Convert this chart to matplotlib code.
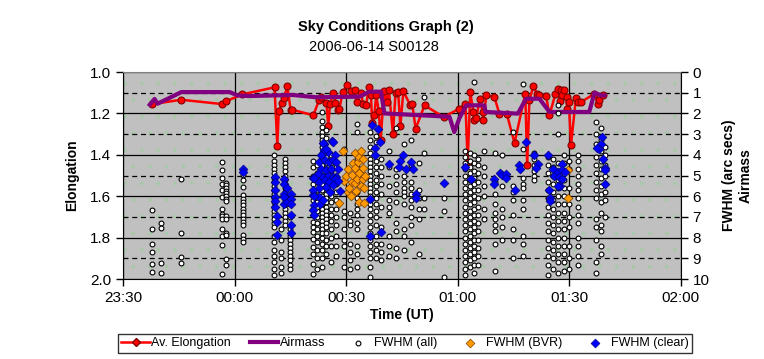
import matplotlib
matplotlib.use("Agg")
import matplotlib.pyplot as plt
from matplotlib.patches import Rectangle
from matplotlib.lines import Line2D

plt.rcParams['font.family'] = ['Liberation Sans', 'DejaVu Sans']
plt.rcParams['hatch.linewidth'] = 0.3

# time axis: minutes after 00:00 UT
time_ticks = [-30, 0, 30, 60, 90, 120]
time_labels = ['23:30', '00:00', '00:30', '01:00', '01:30', '02:00']

# Av. Elongation (left axis)
elong_t = [-22.1, -14.3, -3.3, -2.4, 2.1, 10.75, 11.5, 11.9, 12.8, 13.3, 14.2, 15.1, 15.5,
           21.2, 22.7, 23.3, 24.7, 25.2, 25.7, 26.6, 27.1, 27.9, 28.2, 29.1, 30.2, 31.2,
           32.3, 32.8, 34.1, 34.5, 35.4, 36.1, 36.7, 37.0, 37.6, 38.1, 38.8, 39.3, 40.2,
           40.9, 41.5, 42.6, 43.3, 44.0, 44.6, 45.4, 47.2, 47.8, 48.7, 51.1, 56.2, 60.5,
           62.1, 62.7, 63.4, 64.2, 64.5, 65.0, 66.0, 66.7, 66.9, 67.7, 69.9, 71.2, 73.2,
           75.3, 78.2, 78.7, 79.3, 80.4, 81.3, 82.0, 83.8, 84.7, 86.3, 86.9, 87.5, 87.9,
           88.2, 88.7, 89.3, 89.4, 89.9, 90.5, 91.8, 92.3, 93.2, 96.8, 97.7, 98.1, 99.0]
elong = [1.155, 1.134, 1.155, 1.142, 1.108, 1.074, 1.356, 1.188, 1.150, 1.124, 1.069, 1.185, 1.182,
         1.209, 1.137, 1.121, 1.150, 1.261, 1.153, 1.103, 1.148, 1.184, 1.177, 1.097, 1.064, 1.090,
         1.087, 1.145, 1.100, 1.153, 1.161, 1.074, 1.113, 1.245, 1.209, 1.113, 1.190, 1.329, 1.093,
         1.143, 1.087, 1.298, 1.103, 1.097, 1.262, 1.093, 1.158, 1.155, 1.274, 1.161, 1.217, 1.177,
         1.153, 1.435, 1.097, 1.193, 1.233, 1.222, 1.129, 1.193, 1.233, 1.113, 1.121, 1.201, 1.201,
         1.343, 1.105, 1.448, 1.135, 1.068, 1.105, 1.111, 1.117, 1.209, 1.105, 1.081, 1.142, 1.088,
         1.113, 1.088, 1.121, 1.177, 1.145, 1.351, 1.126, 1.145, 1.145, 1.105, 1.153, 1.137, 1.113]

# Airmass (right axis)
air_t = [-22.8, -21.5, -20.7, -14.3, -1.3, 0.8, 4.0, 15.7, 22.0, 33.6, 36.3, 39.4, 40.3, 57.8,
         59.1, 60.5, 62.3, 67.2, 67.5, 76.2, 78.4, 82.0, 84.7, 95.4, 96.8, 98.6, 99.5]
airmass = [1.58, 1.30, 1.53, 0.97, 0.97, 1.13, 1.16, 1.11, 1.22, 1.19, 0.95, 0.95, 2.00, 2.16,
           2.90, 2.22, 1.61, 1.61, 1.93, 2.01, 1.29, 1.29, 1.93, 1.93, 1.00, 1.13, 1.13]

# FWHM (all): (time, [fwhm values]) per exposure column
fwhm_all_cols = [
    (-22.1, [6.65, 7.57, 8.29, 8.68, 9.29, 9.65]),
    (-19.7, [7.28, 7.52, 9.21, 9.70]),
    (-14.3, [5.15, 7.76, 8.92, 9.21]),
    (-3.3, [4.33, 4.72, 5.12, 5.40, 5.71, 6.02, 6.60, 6.85, 6.96, 7.09, 7.57, 7.92, 8.34, 9.74]),
    (-2.4, [5.35, 5.48, 5.60, 5.73, 5.86, 5.99, 6.12, 6.25, 6.96, 7.12, 7.76, 7.86, 9.05, 9.34]),
    (2.2, [4.99, 5.23, 5.56, 5.96, 6.12, 6.28, 6.44, 6.60, 6.76, 6.92, 7.08, 7.25, 7.41, 7.86, 8.05, 8.21]),
    (10.7, [4.0, 4.3, 4.5, 4.7, 4.9, 5.1, 5.3, 5.5, 5.7, 5.9, 6.1, 6.3, 6.5, 6.7, 6.9, 7.1, 7.3,
            7.5, 7.9, 8.2, 8.6, 8.9, 9.2, 9.5, 9.8]),
    (12.4, [7.6, 8.1, 8.7, 9.0, 9.4, 9.7]),
    (13.6, [4.2, 4.4, 4.6, 4.8, 5.0, 5.2, 5.4, 5.6, 5.8, 6.0, 6.2, 6.4, 6.6, 6.8, 7.0, 7.2, 7.4]),
    (15.0, [6.4, 7.0, 7.6, 7.9, 8.1, 8.3, 8.5, 8.7, 8.9, 9.1, 9.3, 9.5]),
    (21.0, [4.3, 4.6, 5.0, 5.4, 5.8, 6.2, 6.6, 6.9, 7.25, 7.5, 7.73, 8.05, 8.45, 8.78, 9.26, 9.74]),
    (22.3, [4.5, 4.9, 5.3, 5.7, 6.0, 6.3, 6.5, 6.7, 7.0, 7.3, 7.6, 7.9, 8.2, 8.6, 9.0, 9.5]),
    (23.5, [1.95, 2.35, 2.65, 2.9, 3.1, 3.3, 3.6, 3.9, 4.2, 4.5, 4.8, 5.1, 5.4, 5.7, 6.0, 6.2, 6.4,
            6.6, 6.8, 7.0, 7.2, 7.4, 7.6, 7.8, 8.0, 8.3, 8.6, 9.0, 9.4]),
    (24.6, [2.8, 3.2, 3.7, 4.1, 4.4, 4.7, 5.0, 5.3, 5.6, 5.9, 6.1, 6.3, 6.5, 6.7, 6.9, 7.1, 7.3,
            7.5, 7.8, 8.1, 8.4, 8.8]),
    (26.0, [4.0, 4.4, 4.8, 5.2, 5.6, 6.0, 6.3, 6.6, 6.9, 7.2, 7.6, 8.0, 8.4, 9.2]),
    (27.3, [4.6, 5.0, 5.4, 5.8, 6.2, 6.6, 7.0, 7.4, 7.9, 8.4, 8.9]),
    (29.5, [3.7, 6.7, 7.0, 7.6, 8.1, 8.4, 9.4]),
    (31.0, [6.8, 7.2, 7.4, 8.3, 8.7, 9.1, 9.5]),
    (33.0, [2.5, 2.9, 4.2, 4.6, 5.0, 5.4, 5.8, 6.1, 6.4, 6.6, 6.9, 7.3, 7.6, 8.4, 8.8, 9.4]),
    (36.5, [2.9, 3.3, 3.6, 3.9, 4.2, 4.4, 4.6, 4.8, 5.0, 5.2, 5.4, 5.6, 5.8, 6.0, 6.2, 6.4, 6.6,
            6.9, 7.2, 7.5, 7.8, 8.1, 8.4, 8.7, 9.0, 9.4, 9.9]),
    (38.0, [3.1, 3.4, 4.3, 4.6, 4.9, 5.2, 5.5, 5.8, 6.1, 6.4, 6.7, 7.0, 7.4, 7.9, 8.3, 8.6, 9.0]),
    (39.5, [4.2, 4.6, 5.0, 5.4, 5.9, 6.5, 7.5, 8.3, 8.7, 9.1]),
    (41.5, [3.8, 4.6, 5.5, 6.2, 6.5, 6.8, 7.9, 8.4, 8.9]),
    (43.5, [2.7, 4.7, 5.0, 5.4, 5.8, 6.3, 7.3, 7.7, 8.5, 9.0]),
    (45.5, [3.5, 5.0, 5.3, 5.6, 5.8, 6.0, 6.4, 7.6, 7.9, 8.6]),
    (47.5, [3.3, 4.5, 5.3, 5.6, 5.9, 6.2, 6.5, 7.0, 7.4, 8.2]),
    (49.5, [4.4, 5.7, 6.1, 6.6, 7.1, 8.8]),
    (51.0, [1.2, 3.9, 6.1, 6.6]),
    (56.3, [6.1, 6.7, 9.9]),
    (62.0, [3.8, 4.1, 4.4, 4.7, 5.0, 5.3, 5.6, 5.9, 6.2, 6.5, 6.8, 7.1, 7.4, 7.7, 8.0, 8.3, 8.6,
            8.9, 9.2, 9.5, 9.8]),
    (63.2, [3.9, 4.3, 4.6, 4.9, 5.2, 5.5, 5.8, 6.1, 6.4, 6.7, 7.0, 7.3, 7.6, 7.9, 8.2, 8.5, 8.8,
            9.1, 9.4]),
    (64.4, [0.5, 4.0, 4.4, 4.8, 5.1, 5.4, 5.7, 6.0, 6.3, 6.6, 6.9, 7.2, 7.5, 7.8, 8.1, 8.4, 8.7,
            9.0, 9.3, 9.7]),
    (65.6, [4.2, 4.5, 4.9, 5.3, 5.7, 6.1, 6.5, 6.9, 7.3, 7.7, 8.1, 8.5, 8.9, 9.3]),
    (67.0, [3.8, 4.6, 5.0, 5.5, 6.0, 6.6, 7.1]),
    (70.0, [3.9, 5.3, 5.9, 6.4, 6.8, 7.1, 7.4, 7.7, 8.3, 9.6]),
    (72.0, [4.0, 5.5, 6.6, 7.0, 7.5, 8.1]),
    (75.0, [2.9, 5.5, 5.8, 6.2, 6.9, 7.6, 8.1, 9.0]),
    (77.5, [0.6, 3.7, 5.1, 5.4, 5.6, 6.2, 6.6, 7.9, 8.3, 8.9]),
    (80.5, [3.9, 4.2, 4.5, 4.8, 5.0, 5.2]),
    (84.2, [4.1, 4.5, 4.9, 5.3, 5.7, 6.1, 6.5, 6.9, 7.3, 7.7, 8.1, 8.5, 8.9, 9.3, 9.8]),
    (85.6, [4.2, 4.6, 5.0, 5.4, 5.8, 6.2, 6.6, 7.0, 7.4, 7.8, 8.2, 8.6, 9.0, 9.5]),
    (87.0, [1.6, 2.0, 3.0, 4.4, 4.8, 5.2, 5.6, 6.0, 6.4, 6.8, 7.2, 7.6, 8.0, 8.4, 8.8, 9.2, 9.7]),
    (88.6, [4.0, 4.4, 4.8, 5.2, 5.6, 6.0, 6.4, 6.8, 7.2, 7.6, 8.0, 8.4, 8.8, 9.2, 9.6]),
    (90.0, [4.3, 4.7, 5.6, 6.4, 7.0, 7.5, 8.4, 9.0, 9.5]),
    (92.4, [4.0, 4.3, 4.7, 5.0, 5.4, 5.7, 6.1, 6.5, 6.9, 7.3, 8.0, 8.4, 8.9, 9.3]),
    (97.3, [2.4, 3.0, 3.5, 4.1, 4.5, 4.9, 5.3, 5.7, 6.1, 7.1, 7.5, 8.1, 9.2, 9.7]),
    (98.6, [2.7, 3.3, 3.8, 4.3, 4.7, 5.1, 5.5, 5.9, 6.3, 6.8, 7.4, 7.7, 8.4, 8.8]),
    (99.5, [3.6, 4.0, 4.5, 5.0, 5.4, 5.8, 6.2, 7.0]),
]

# FWHM (BVR)
bvr_t = [28.2, 29.3, 29.5, 30.0, 30.5, 30.6, 30.9, 31.2, 31.5, 31.6, 31.8, 32.5, 32.5, 32.5,
         32.7, 32.9, 33.1, 33.4, 33.4, 33.6, 34.1, 34.1, 34.5, 34.5, 34.5, 34.8, 34.8, 35.0,
         89.6, 89.6]
bvr_fwhm = [6.31, 3.80, 5.25, 5.00, 5.78, 4.67, 5.62, 6.00, 5.30, 4.98, 4.41, 3.90, 4.65, 5.38,
            5.75, 5.15, 4.33, 4.09, 6.26, 4.90, 3.80, 5.50, 4.20, 4.65, 5.19, 5.62, 6.34, 5.00,
            4.75, 6.09]

# FWHM (clear)
clear_t = [2.2, 2.2, 10.75, 10.75, 10.75, 10.75, 10.75, 10.75, 11.5, 11.5, 11.5, 13.3, 13.3,
           13.3, 13.3, 13.3, 14.0, 14.0, 15.3, 15.3, 15.3, 15.3, 15.3, 15.3,
           24.0, 26.3, 25.1, 26.9, 22.8, 24.2, 25.5, 26.4, 27.3, 23.3, 24.6, 26.0, 27.8, 22.4,
           23.7, 25.1, 26.4, 27.3, 21.1, 22.8, 24.2, 25.5, 26.9, 27.8, 22.8, 24.6, 26.4, 21.1,
           22.8, 21.5, 21.1, 21.5, 23.0, 28.3, 24.0, 23.3, 25.8, 23.7, 23.9, 26.4, 24.6, 21.5,
           21.1, 21.3,
           36.9, 38.5, 39.0, 37.9, 37.7, 36.3, 36.5, 39.3, 41.5, 45.4, 44.6, 44.1, 46.2, 47.5,
           47.9, 48.8, 48.8, 56.3,
           62.1, 63.6, 69.9, 69.9, 71.4, 72.0, 73.0, 73.0, 75.3, 76.6, 76.8, 78.4, 80.5, 81.5,
           81.0, 84.2, 84.7, 84.9, 84.9, 85.7, 86.0, 86.9, 87.3, 88.2, 88.2, 87.6, 86.9, 88.9,
           88.2, 98.9, 98.6, 98.0, 97.6, 99.0, 99.5, 99.5, 99.5]
clear_fwhm = [4.70, 4.83, 5.07, 5.31, 5.72, 6.04, 6.25, 6.52, 6.96, 7.25, 7.89, 5.19, 5.39,
              5.88, 6.04, 6.36, 6.28, 5.60, 5.88, 6.12, 6.36, 6.92, 7.41, 7.76,
              3.46, 3.33, 3.86, 3.99, 4.35, 4.27, 4.35, 4.27, 4.35, 4.67, 4.75, 4.67, 4.67, 4.91,
              5.07, 5.00, 5.07, 5.07, 5.12, 5.31, 5.23, 5.31, 5.15, 5.27, 5.60, 5.56, 5.48, 5.96,
              6.04, 6.44, 6.68, 6.92, 6.36, 5.75, 3.75, 4.00, 5.80, 6.20, 3.41, 3.37, 3.74, 5.14,
              5.70, 6.00,
              2.54, 2.77, 3.38, 3.67, 4.03, 6.12, 7.92, 7.73, 4.43, 4.03, 4.32, 4.59, 4.70, 4.35,
              4.70, 5.88, 6.09, 5.36,
              4.59, 5.19, 5.15, 5.39, 4.86, 4.99, 4.91, 5.12, 5.72, 4.51, 4.70, 3.38, 4.03, 4.43,
              4.64, 4.03, 5.72, 6.09, 6.25, 4.70, 5.02, 4.83, 5.07, 4.43, 4.75, 5.50, 5.50, 4.83,
              5.15, 3.14, 3.46, 3.70, 3.66, 4.19, 4.64, 4.75, 5.39]

all_t = [t for t, vals in fwhm_all_cols for v in vals]
all_fwhm = [v for t, vals in fwhm_all_cols for v in vals]

fig = plt.figure(figsize=(7.64, 3.59), dpi=100)
ax = fig.add_axes([0.161, 0.2228, 0.730, 0.5766])
ax.set_facecolor('#c0c0c0')
# Excel-style faint dotted fill
ax.add_patch(Rectangle((0, 0), 1, 1, transform=ax.transAxes, facecolor='none',
                       edgecolor='#a8c8a8', hatch='.', lw=0, zorder=0))

ax.set_xlim(-30, 120)
ax.set_ylim(2.0, 1.0)
ax.set_xticks(time_ticks)
ax.set_xticklabels(time_labels)
ax.set_yticks([1.0, 1.2, 1.4, 1.6, 1.8, 2.0])
ax.set_yticklabels(['1.0', '1.2', '1.4', '1.6', '1.8', '2.0'])
ax.set_yticks([1.1, 1.3, 1.5, 1.7, 1.9], minor=True)
ax.set_axisbelow(True)
ax.grid(which='major', color='black', lw=0.9)
ax.grid(which='minor', axis='y', color='black', lw=0.9, dashes=(4, 3))
ax.tick_params(which='minor', length=0)
ax.tick_params(which='major', direction='out', length=5, width=1, labelsize=11, colors='black')
for s in ['left', 'bottom', 'right']:
    ax.spines[s].set_color('black')
ax.spines['top'].set_color('#808080')

ln_el, = ax.plot(elong_t, elong, color='#ff0000', lw=1.8, marker='o', markersize=5,
                 markerfacecolor='#ff0000', markeredgecolor='#800000', markeredgewidth=0.8,
                 zorder=3)

ax2 = ax.twinx()
ax2.set_ylim(10, 0)
ax2.set_yticks(range(0, 11))
ax2.tick_params(direction='out', length=5, width=1, labelsize=11)
ax2.patch.set_visible(False)
for s in ax2.spines.values():
    s.set_visible(False)

ln_air, = ax2.plot(air_t, airmass, color='#800080', lw=3, zorder=2)
sc_all = ax2.scatter(all_t, all_fwhm, s=12, facecolor='white', edgecolor='black',
                     linewidths=0.8, zorder=3)
sc_bvr = ax2.scatter(bvr_t, bvr_fwhm, s=20, marker='D', facecolor='#ff9900',
                     edgecolor='#804000', linewidths=0.5, zorder=4)
sc_clr = ax2.scatter(clear_t, clear_fwhm, s=20, marker='D', facecolor='#0000ff',
                     edgecolor='#000080', linewidths=0.5, zorder=5)

ax.set_ylabel('Elongation', fontsize=10, fontweight='bold', labelpad=8)
ax.set_xlabel('Time (UT)', fontsize=10, fontweight='bold', labelpad=2)
ax2.set_ylabel('FWHM (arc secs)\nAirmass', fontsize=10, fontweight='bold', labelpad=9)

fig.text(0.505, 0.925, 'Sky Conditions Graph (2)', ha='center', va='center',
         fontsize=10.5, fontweight='bold')
fig.text(0.49, 0.869, '2006-06-14 S00128', ha='center', va='center', fontsize=10.5)

h_el = Line2D([], [], color='#ff0000', lw=1.8, marker='D', markersize=4,
              markerfacecolor='#ff0000', markeredgecolor='#800000')
leg = fig.legend([h_el, ln_air, sc_all, sc_bvr, sc_clr],
                 ['Av. Elongation', 'Airmass', 'FWHM (all)', 'FWHM (BVR)', 'FWHM (clear)'],
                 loc='lower center', bbox_to_anchor=(0.53, 0.018), ncol=5, fontsize=9,
                 frameon=True, fancybox=False, edgecolor='black', handlelength=2.3,
                 handletextpad=0.1, columnspacing=1.5, borderpad=0.25, borderaxespad=0,
                 scatterpoints=1)
leg.get_frame().set_linewidth(1.0)

fig.savefig('out.png', dpi=100)
